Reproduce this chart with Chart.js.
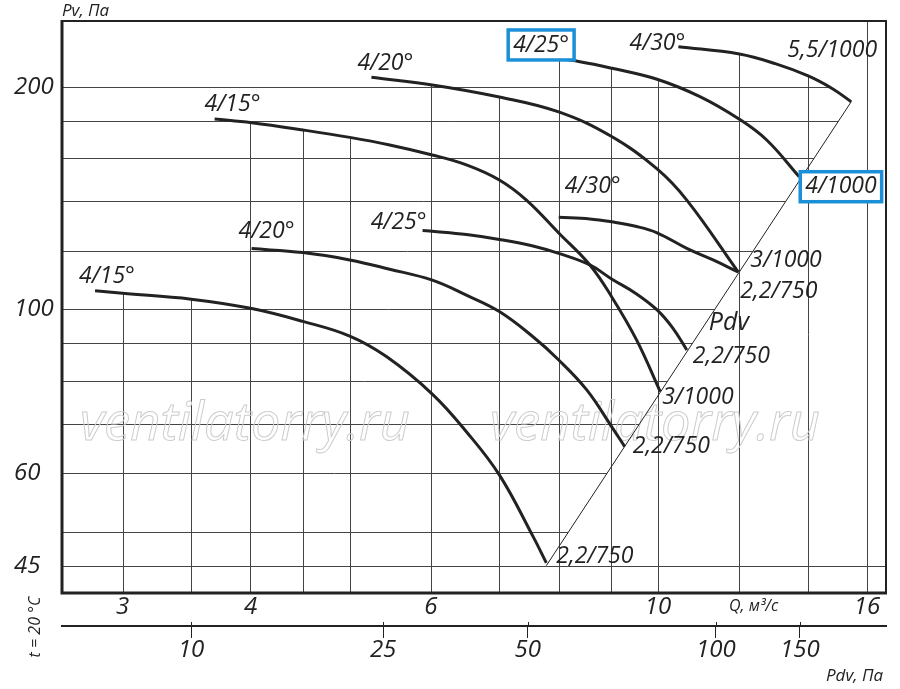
<!DOCTYPE html>
<html>
<head>
<meta charset="utf-8">
<title>Pv - Q</title>
<script src="https://cdn.jsdelivr.net/npm/chart.js@4.4.1/dist/chart.umd.min.js"></script>
<style>
  html, body { margin: 0; padding: 0; background: #fff; }
  #wrap { width: 900px; height: 689px; }
</style>
</head>
<body>
<div id="wrap"><canvas id="chart" width="900" height="689"></canvas></div>
<script>
// -----------------------
// Axis ticks and grid
// -----------------------
const qTicks = [3, 4, 6, 10, 16];
const pTicks = [45, 60, 100, 200];
const qGrid = [3, 3.5, 4, 4.5, 5, 6, 7, 8, 9, 10, 12, 14, 16];
const pGrid = [45, 50, 60, 70, 80, 90, 100, 120, 140, 160, 180, 200];

// second scale under the chart: Pdv values and the Q where each one sits
const pdvLabels = [10, 25, 50, 100, 150];
const pdvAtQ = [3.5, 5.39, 7.46, 11.39, 13.76];

// -----------------------
// Fan curves (Q, m3/s -> Pv, Pa)
// -----------------------
const q15Low = [2.82, 3.0, 3.5, 4.0, 4.5, 5.0, 5.43, 6.02, 6.5, 7.0, 7.55, 7.78];
const p15Low = [105.9, 105.1, 103.2, 100.3, 96.3, 92.0, 86.3, 76.8, 68.3, 59.7, 49.3, 45.4];

const q20Low = [4.01, 4.5, 5.0, 5.47, 6.02, 6.5, 7.0, 7.55, 8.0, 8.52, 9.01, 9.28];
const p20Low = [120.8, 119.3, 116.6, 113.3, 109.5, 104.5, 99.3, 91.8, 85.4, 77.8, 69.4, 65.2];

const q15High = [3.69, 4.01, 4.5, 5.0, 5.47, 6.02, 6.5, 7.0, 7.44, 8.0, 8.58, 9.01, 9.53, 10.05];
const p15High = [180.9, 178.8, 174.8, 170.8, 166.8, 161.7, 156.8, 149.6, 140.5, 126.8, 114.8, 104.0, 90.9, 77.4];

const q25Low = [5.89, 6.02, 6.5, 7.0, 7.55, 8.0, 8.58, 9.01, 9.53, 9.98, 10.34, 10.67];
const p25Low = [127.8, 127.5, 126.2, 124.3, 121.8, 119.0, 114.8, 109.9, 104.9, 99.8, 94.3, 88.1];

const q30Low = [8.0, 8.58, 9.01, 9.53, 9.98, 10.67, 11.32, 11.98];
const p30Low = [133.2, 132.5, 131.3, 129.4, 126.9, 120.9, 116.6, 112.3];

const q20High = [5.25, 6.02, 7.0, 8.0, 9.02, 9.98, 10.67, 11.98];
const p20High = [205.9, 201.1, 193.7, 184.9, 171.1, 154.8, 140.5, 112.3];

const q25High = [7.76, 8.39, 9.02, 9.98, 10.99, 12.01, 12.77, 13.74];
const p25High = [219.4, 216.2, 211.8, 204.7, 193.9, 180.7, 169.4, 151.1];

const q30High = [10.47, 12.01, 13.04, 14.02, 14.82, 15.44];
const p30High = [226.5, 221.4, 214.7, 206.8, 198.6, 190.9];

// Pdv line through the curve ends
const qPdv = [7.78, 15.45];
const pPdv = [45, 191];

const curveNames = ['4/15°', '4/20°', '4/15°', '4/25°', '4/30°', '4/20°', '4/25°', '4/30°'];
const motorNames = ['2,2/750', '2,2/750', '3/1000', '2,2/750', '2,2/750', '3/1000', '4/1000', '5,5/1000'];
const curveQ = [q15Low, q20Low, q15High, q25Low, q30Low, q20High, q25High, q30High];
const curveP = [p15Low, p20Low, p15High, p25Low, p30Low, p20High, p25High, p30High];

// where the labels sit relative to the first / last point of each curve
const nameOffsets = [
  { dx: -16, dy: -14, align: 'left' },
  { dx: -13, dy: -17, align: 'left' },
  { dx: -10, dy: -14, align: 'left' },
  { dx: 4, dy: -8, align: 'right' },
  { dx: 6, dy: -31, align: 'left' },
  { dx: -14, dy: -14, align: 'left' },
  { dx: -32, dy: -12, align: 'left', box: true },
  { dx: 7, dy: -3, align: 'right' }
];
const motorOffsets = [
  { dx: 10, dy: -6, align: 'left' },
  { dx: 8, dy: 0, align: 'left' },
  { dx: 2, dy: 6, align: 'left' },
  { dx: 6, dy: 6, align: 'left' },
  { dx: 2, dy: 19, align: 'left' },
  { dx: 12, dy: -12, align: 'left' },
  { dx: 6, dy: 10, align: 'left', box: true },
  { dx: 26, dy: -51, align: 'right' }
];

const INK = '#222';
const BLUE = '#1b8fd8';
const FAMILY = '"Open Sans", "Noto Sans", sans-serif';
const font = (size) => 'italic ' + size + 'px ' + FAMILY;

const toPoints = (qs, ps) => qs.map((q, i) => ({ x: q, y: ps[i] }));

const datasets = curveQ.map((qs, i) => ({
  label: curveNames[i] + ' ' + motorNames[i],
  data: toPoints(qs, curveP[i]),
  borderColor: INK,
  borderWidth: 3,
  pointRadius: 0,
  tension: 0.4,
  fill: false
}));
datasets.push({
  label: 'Pdv',
  data: toPoints(qPdv, pPdv),
  borderColor: INK,
  borderWidth: 1,
  pointRadius: 0,
  tension: 0,
  fill: false
});

// pixel points of a dataset
function pixelPoints(chart, i) {
  return chart.getDatasetMeta(i).data.map(e => ({ x: e.x, y: e.y }));
}

// highest curve pixel above a vertical gridline
function topAt(chart, x) {
  let best = null;
  chart.data.datasets.forEach((ds, i) => {
    const p = pixelPoints(chart, i);
    for (let k = 0; k < p.length - 1; k++) {
      const a = p[k], b = p[k + 1];
      if (x >= a.x - 0.5 && x <= b.x + 0.5) {
        const t = b.x === a.x ? 0 : Math.min(1, Math.max(0, (x - a.x) / (b.x - a.x)));
        const y = a.y + t * (b.y - a.y);
        if (best === null || y < best) best = y;
      }
    }
  });
  return best;
}

// right-most curve pixel on a horizontal gridline
function rightAt(chart, y) {
  let best = null;
  chart.data.datasets.forEach((ds, i) => {
    const p = pixelPoints(chart, i);
    for (let k = 0; k < p.length - 1; k++) {
      const a = p[k], b = p[k + 1];
      const lo = Math.min(a.y, b.y), hi = Math.max(a.y, b.y);
      if (y >= lo - 0.5 && y <= hi + 0.5) {
        const t = b.y === a.y ? 0 : Math.min(1, Math.max(0, (y - a.y) / (b.y - a.y)));
        const x = a.x + t * (b.x - a.x);
        if (best === null || x > best) best = x;
      }
    }
  });
  return best;
}

function drawLabel(ctx, text, x, y, opt, size) {
  ctx.font = font(size);
  ctx.textBaseline = 'middle';
  const w = ctx.measureText(text).width;
  const left = opt.align === 'right' ? x - w : x;
  if (opt.box) {
    ctx.fillStyle = '#fff';
    ctx.fillRect(left - 5, y - 15, w + 10, 30);
    ctx.strokeStyle = BLUE;
    ctx.lineWidth = 3.5;
    ctx.strokeRect(left - 5, y - 15, w + 10, 30);
  }
  ctx.fillStyle = INK;
  ctx.textAlign = 'left';
  ctx.fillText(text, left, y);
}

const gridPlugin = {
  id: 'fanGrid',
  beforeDatasetsDraw(chart) {
    const { ctx, chartArea: area, scales } = chart;
    ctx.save();
    ctx.strokeStyle = '#444';
    ctx.lineWidth = 1;
    qGrid.forEach(q => {
      const x = Math.round(scales.x.getPixelForValue(q)) + 0.5;
      const top = topAt(chart, x);
      ctx.beginPath();
      ctx.moveTo(x, top === null ? area.top : top);
      ctx.lineTo(x, area.bottom);
      ctx.stroke();
    });
    pGrid.forEach(p => {
      const y = Math.round(scales.y.getPixelForValue(p)) + 0.5;
      const right = rightAt(chart, y);
      ctx.beginPath();
      ctx.moveTo(area.left, y);
      ctx.lineTo(right === null ? area.right : right, y);
      ctx.stroke();
    });

    // watermark
    ctx.strokeStyle = '#cdcdcd';
    ctx.lineWidth = 1;
    ctx.textBaseline = 'alphabetic';
    ctx.textAlign = 'left';
    const mark = 'ventilatorry.ru';
    ctx.font = font(50);
    const size = 50 * 330 / ctx.measureText(mark).width;
    ctx.font = font(size);
    ctx.strokeText(mark, 80, 440);
    ctx.strokeText(mark, 490, 440);
    ctx.restore();
  },
  afterDatasetsDraw(chart) {
    const { ctx, chartArea: area, scales } = chart;
    ctx.save();

    // frame
    ctx.strokeStyle = INK;
    ctx.lineWidth = 2;
    ctx.beginPath();
    ctx.moveTo(area.left, area.top);
    ctx.lineTo(area.right, area.top);
    ctx.lineTo(area.right, area.bottom);
    ctx.stroke();
    ctx.lineWidth = 3;
    ctx.beginPath();
    ctx.moveTo(area.left, area.top - 1);
    ctx.lineTo(area.left, area.bottom);
    ctx.lineTo(area.right + 1, area.bottom);
    ctx.stroke();

    // ticks of the Pdv scale reach a little above its line
    ctx.lineWidth = 1;
    const top2 = scales.x2.top;
    pdvAtQ.forEach(q => {
      const x = Math.round(scales.x2.getPixelForValue(q)) + 0.5;
      ctx.beginPath();
      ctx.moveTo(x, top2 - 4);
      ctx.lineTo(x, top2);
      ctx.stroke();
    });

    // curve names and motor labels
    curveQ.forEach((qs, i) => {
      const pts = pixelPoints(chart, i);
      const first = pts[0], last = pts[pts.length - 1];
      const n = nameOffsets[i], m = motorOffsets[i];
      drawLabel(ctx, curveNames[i], first.x + n.dx, first.y + n.dy, n, 23);
      drawLabel(ctx, motorNames[i], last.x + m.dx, last.y + m.dy, m, 23);
    });
    const diag = pixelPoints(chart, curveQ.length);
    const midX = (diag[0].x + diag[1].x) / 2, midY = (diag[0].y + diag[1].y) / 2;
    drawLabel(ctx, 'Pdv', midX + 10, midY - 11, { align: 'left' }, 25);

    // axis titles
    ctx.fillStyle = INK;
    ctx.textBaseline = 'middle';
    ctx.textAlign = 'left';
    ctx.font = font(17);
    ctx.fillText('Pv, Па', 62, 11);
    ctx.fillText('Pdv, Па', 826, 676);
    ctx.font = font(16);
    ctx.fillText('Q, м³/с', 729, 606);
    ctx.translate(35, 627);
    ctx.rotate(-Math.PI / 2);
    ctx.textAlign = 'center';
    ctx.fillText('t = 20 °C', 0, 0);
    ctx.restore();
  }
};

const tickFont = { family: FAMILY, size: 24, style: 'italic' };

new Chart(document.getElementById('chart'), {
  type: 'line',
  data: { datasets },
  options: {
    responsive: false,
    animation: false,
    events: [],
    layout: { padding: { left: 14, top: 21, right: 14, bottom: 0 } },
    plugins: { legend: { display: false }, tooltip: { enabled: false } },
    scales: {
      x: {
        type: 'logarithmic',
        position: 'bottom',
        weight: 0,
        min: 2.618,
        max: 16.70,
        afterBuildTicks: (axis) => { axis.ticks = qTicks.map(v => ({ value: v })); },
        afterFit: (axis) => { axis.height = 33; },
        grid: { display: false, drawTicks: false },
        border: { display: false },
        ticks: {
          autoSkip: false,
          maxRotation: 0,
          padding: 0,
          color: INK,
          font: tickFont,
          callback: (v) => String(v)
        }
      },
      x2: {
        type: 'logarithmic',
        axis: 'x',
        position: 'bottom',
        weight: 1,
        min: 2.618,
        max: 16.70,
        afterBuildTicks: (axis) => { axis.ticks = pdvAtQ.map(v => ({ value: v })); },
        afterFit: (axis) => { axis.height = 63; },
        grid: { display: true, drawOnChartArea: false, drawTicks: true, tickLength: 12, color: INK, lineWidth: 1 },
        border: { display: true, color: INK, width: 2 },
        ticks: {
          autoSkip: false,
          maxRotation: 0,
          padding: -2,
          color: INK,
          font: tickFont,
          callback: (v, i) => String(pdvLabels[i])
        }
      },
      y: {
        type: 'logarithmic',
        position: 'left',
        min: 41.33,
        max: 245.4,
        afterBuildTicks: (axis) => { axis.ticks = pTicks.map(v => ({ value: v })); },
        afterFit: (axis) => { axis.width = 48; },
        grid: { display: false, drawTicks: false },
        border: { display: false },
        ticks: {
          crossAlign: 'far',
          padding: 0,
          color: INK,
          font: tickFont,
          callback: (v) => String(v)
        }
      }
    }
  },
  plugins: [gridPlugin]
});
</script>
</body>
</html>
